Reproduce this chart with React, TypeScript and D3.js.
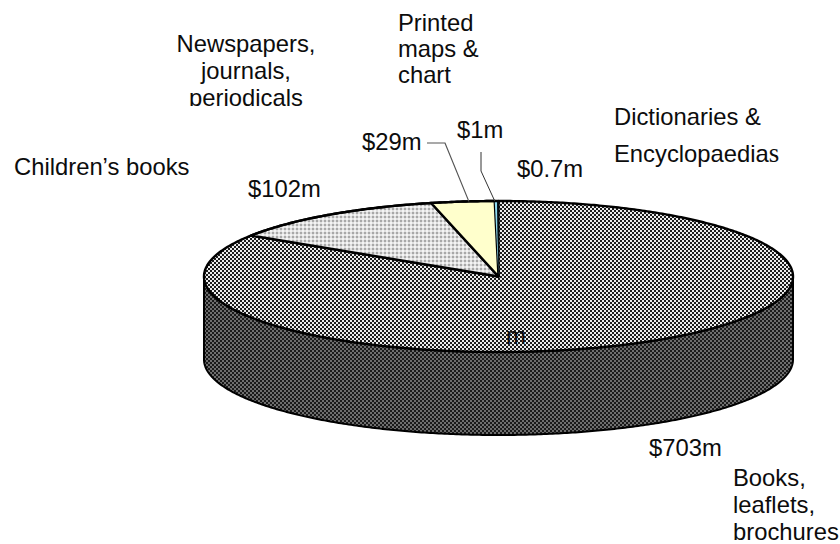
import React from "react";
import * as d3 from "d3";

// Export values by product group, in $ millions
const categories = [
  "Books, leaflets, brochures",
  "Children's books",
  "Newspapers, journals, periodicals",
  "Printed maps & chart",
  "Dictionaries & Encyclopaedias",
];
const values = [703, 102, 29, 1, 0.7];
const sliceFills = ["url(#dither-main)", "url(#dither-light)", "#ffffcc", "#8fdcf2", "#06141c"];

const WIDTH = 840;
const HEIGHT = 544;
const CX = 498.5;
const CY = 276.5;
const RX = 294.5;
const RY = 75.5;
const DEPTH = 83;
const FONT = "'Liberation Sans', Arial, sans-serif";

// Maps an angle measured clockwise from twelve o'clock onto the tilted disc rim
const rim = (a: number, dy = 0): [number, number] => [
  CX + RX * Math.sin(a),
  CY + dy - RY * Math.cos(a),
];

const line = d3.line();

function arcPoints(a0: number, a1: number, dy = 0): [number, number][] {
  const n = Math.max(2, Math.ceil(Math.abs(a1 - a0) / 0.01));
  return d3.range(n + 1).map((i) => rim(a0 + ((a1 - a0) * i) / n, dy));
}

type Label = { lines: string[]; x: number; y: number; anchor?: string; lh?: number; clip?: number };

const labels: Label[] = [
  { lines: ["Children\u2019s books"], x: 14, y: 175 },
  { lines: ["Newspapers,", "journals,", "periodicals"], x: 246, y: 52, anchor: "middle", lh: 27, clip: 106 },
  { lines: ["Printed", "maps &", "chart"], x: 398, y: 31, lh: 26, clip: 84 },
  { lines: ["$102m"], x: 248, y: 197 },
  { lines: ["$29m"], x: 362, y: 150 },
  { lines: ["$1m"], x: 457, y: 138 },
  { lines: ["$0.7m"], x: 517, y: 177 },
  { lines: ["Dictionaries &"], x: 614, y: 125 },
  { lines: ["m"], x: 506, y: 344 },
  { lines: ["$703m"], x: 649, y: 456 },
  { lines: ["Books,", "leaflets,", "brochures"], x: 733, y: 486, lh: 27 },
];

export default function App() {
  const pie = d3.pie<number>().sort(null).value((d) => d)(values);

  const wall = line([...arcPoints(Math.PI / 2, (3 * Math.PI) / 2), ...arcPoints((3 * Math.PI) / 2, Math.PI / 2, DEPTH)]) + "Z";

  return (
    <svg
      width={WIDTH}
      height={HEIGHT}
      viewBox={`0 0 ${WIDTH} ${HEIGHT}`}
      style={{ position: "absolute", left: 0, top: 0, background: "#fff" }}
      fontFamily={FONT}
      fontSize={23.8}
      fill="#0c0c0c"
    >
      <defs>
        <pattern id="dither-main" width={4} height={4} patternUnits="userSpaceOnUse">
          <rect width={4} height={4} fill="#ececec" />
          <rect width={2} height={2} fill="#1c1c1c" />
          <rect x={2} y={2} width={2} height={2} fill="#1c1c1c" />
        </pattern>
        <pattern id="dither-dark" width={4} height={4} patternUnits="userSpaceOnUse">
          <rect width={4} height={4} fill="#6e6e6e" />
          <rect width={2} height={2} fill="#1a1a1a" />
          <rect x={2} y={2} width={2} height={2} fill="#1a1a1a" />
        </pattern>
        <pattern id="dither-light" width={4} height={4} patternUnits="userSpaceOnUse">
          <rect width={4} height={4} fill="#e0e0e0" />
          <rect width={2} height={2} fill="#a8a8a8" />
          <rect x={2} y={2} width={2} height={2} fill="#f4f4f4" />
        </pattern>
        {labels
          .filter((l) => l.clip)
          .map((l, i) => (
            <clipPath id={`label-clip-${i}`} key={i}>
              <rect x={0} y={0} width={WIDTH} height={l.clip} />
            </clipPath>
          ))}
      </defs>

      <path d={wall} fill="url(#dither-dark)" stroke="#000" strokeWidth={2} strokeLinejoin="round" />

      {pie.slice(0, 3).map((s, i) => (
        <path
          key={categories[i]}
          d={line([[CX, CY], ...arcPoints(s.startAngle, s.endAngle)]) + "Z"}
          fill={sliceFills[i]}
          stroke="#000"
          strokeWidth={2.4}
          strokeLinejoin="round"
        />
      ))}

      {/* The two narrowest slices go on top, unstroked, so their fills stay visible */}
      {pie.slice(3).map((s, i) => (
        <path
          key={categories[i + 3]}
          d={line([[CX, CY], ...arcPoints(s.startAngle, s.endAngle)]) + "Z"}
          fill={sliceFills[i + 3]}
        />
      ))}
      <path d={line(arcPoints(pie[1].startAngle, Math.PI * 2)) as string} fill="none" stroke="#000" strokeWidth={2.4} />

      {/* Leader lines for the two narrow slices */}
      <polyline points={`427,143 445,143 ${rim(pie[2].startAngle + 0.13).join(",")}`} fill="none" stroke="#555" strokeWidth={1.2} />
      <polyline points={`481,152 481,171 ${rim(pie[3].startAngle).join(",")}`} fill="none" stroke="#333" strokeWidth={1} />

      {labels.filter((l) => !l.clip).map((l) => (
        <text key={l.lines[0]} x={l.x} y={l.y} textAnchor={l.anchor ?? "start"}>
          {l.lines.map((t, j) => (
            <tspan key={j} x={l.x} dy={j ? l.lh : 0}>{t}</tspan>
          ))}
        </text>
      ))}
      {labels.filter((l) => l.clip).map((l, i) => (
        <text key={l.lines[0]} x={l.x} y={l.y} textAnchor={l.anchor ?? "start"} clipPath={`url(#label-clip-${i})`}>
          {l.lines.map((t, j) => (
            <tspan key={j} x={l.x} dy={j ? l.lh : 0}>{t}</tspan>
          ))}
        </text>
      ))}

      {/* Last letter of this label is set in a serif face */}
      <text x={614} y={162}>
        Encyclopaedia
        <tspan fontFamily="'Liberation Serif', serif" fontSize={27}>s</tspan>
      </text>
    </svg>
  );
}
